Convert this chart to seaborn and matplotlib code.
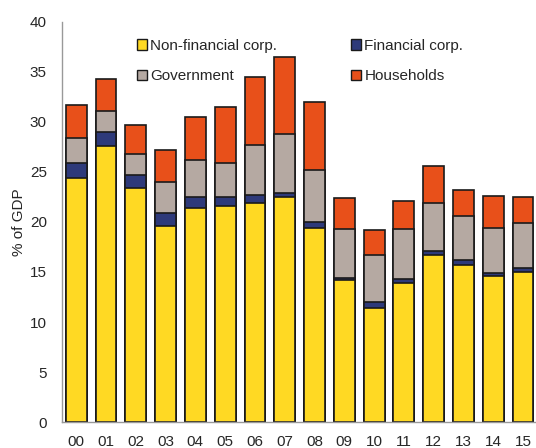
import numpy as np
import pandas as pd
import seaborn as sns
import matplotlib.pyplot as plt
from matplotlib.patches import Patch

## Data (% of GDP)
years = ["00", "01", "02", "03", "04", "05", "06", "07",
         "08", "09", "10", "11", "12", "13", "14", "15"]
nonfin = [24.4, 27.6, 23.4, 19.6, 21.4, 21.6, 21.9, 22.5,
          19.4, 14.2, 11.4, 13.9, 16.7, 15.7, 14.6, 15.0]
fin = [1.5, 1.4, 1.3, 1.3, 1.1, 0.9, 0.8, 0.4,
       0.6, 0.2, 0.6, 0.4, 0.4, 0.5, 0.3, 0.4]
gov = [2.5, 2.1, 2.1, 3.1, 3.7, 3.4, 5.0, 5.9,
       5.2, 4.9, 4.7, 5.0, 4.8, 4.4, 4.5, 4.5]
hh = [3.3, 3.2, 2.9, 3.2, 4.3, 5.6, 6.8, 7.7,
      6.8, 3.1, 2.5, 2.8, 3.7, 2.6, 3.2, 2.6]

series = ["Non-financial corp.", "Financial corp.", "Government", "Households"]
colors = ["#FFD923", "#2E3A7A", "#B5A9A2", "#E8501A"]

df = pd.DataFrame({"year": years, series[0]: nonfin, series[1]: fin,
                   series[2]: gov, series[3]: hh})
cum = df[series].cumsum(axis=1)

sns.set_style("white")
plt.rcParams["font.family"] = ["Liberation Sans", "DejaVu Sans"]

fig = plt.figure(figsize=(5.36, 4.48), dpi=100)
ax = fig.add_axes([0.116, 0.058, 0.886, 0.893])

# stacked bars: draw cumulative totals from the top layer down
for name, col in reversed(list(zip(series, colors))):
    sns.barplot(x=df["year"], y=cum[name], color=col, width=0.7,
                edgecolor="#1a1a1a", linewidth=1.2, saturation=1, ax=ax)

ax.set_ylim(0, 40)
ax.set_xlim(-0.47, 15.47)
ax.set_yticks(range(0, 41, 5))
ax.set_xlabel("")
ax.set_ylabel("% of GDP", fontsize=11, labelpad=3)
ax.tick_params(axis="both", length=0, labelsize=11)
ax.tick_params(axis="x", pad=9)
ax.tick_params(axis="y", pad=11)

for s in ["top", "right"]:
    ax.spines[s].set_visible(False)
for s in ["left", "bottom"]:
    ax.spines[s].set_color("#999999")
    ax.spines[s].set_linewidth(1)

handles = [Patch(facecolor=c, edgecolor="#1a1a1a", linewidth=1) for c in colors]
order = [0, 2, 1, 3]
ax.legend([handles[i] for i in order], [series[i] for i in order],
          ncol=2, frameon=False, fontsize=11, loc="upper left",
          bbox_to_anchor=(0.128, 0.993), handlelength=0.7, handleheight=0.7,
          handletextpad=0.2, columnspacing=4.8, labelspacing=1.1)

fig.savefig("out.png", dpi=100)
